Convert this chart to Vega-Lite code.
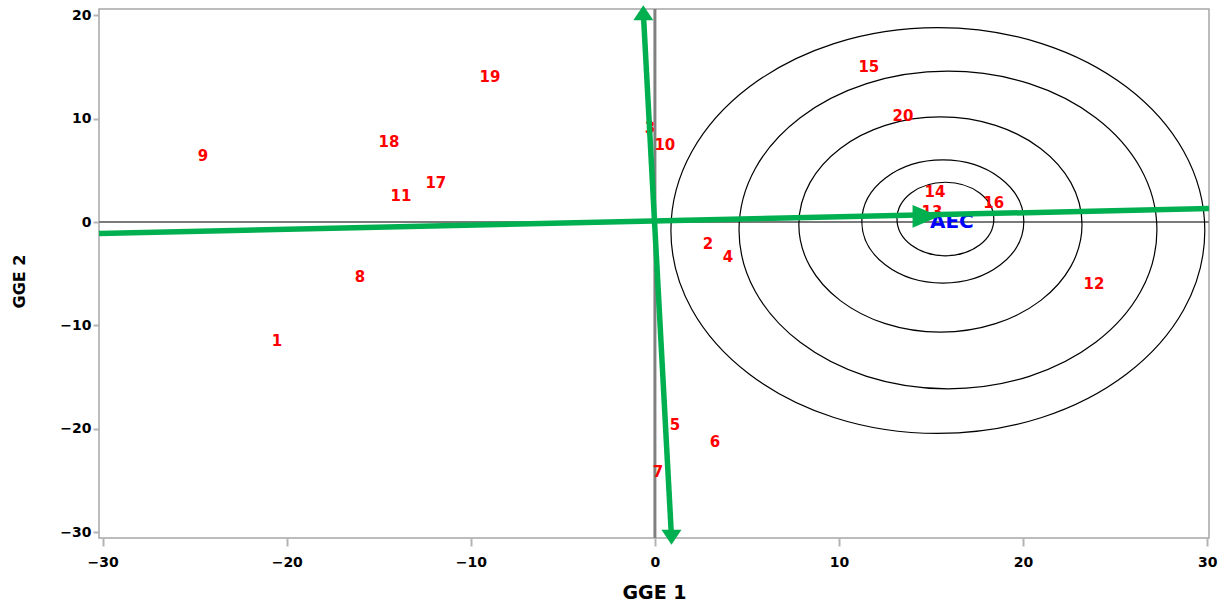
{
  "$schema": "https://vega.github.io/schema/vega-lite/v6.json",
  "width": 1110,
  "height": 529,
  "autosize": {"type": "none"},
  "padding": {"left": 99, "top": 9, "right": 16, "bottom": 68},
  "background": "white",
  "config": {"view": {"stroke": "#a6a6a6", "strokeWidth": 1.5}},
  "datasets": {
    "genotypes": [
      {"label": "1", "x": -20.53, "y": -11.5},
      {"label": "2", "x": 2.88, "y": -2.1},
      {"label": "3", "x": -0.27, "y": 9.08},
      {"label": "4", "x": 3.97, "y": -3.4},
      {"label": "5", "x": 1.09, "y": -19.61},
      {"label": "6", "x": 3.26, "y": -21.26},
      {"label": "7", "x": 0.16, "y": -24.15},
      {"label": "8", "x": -16.02, "y": -5.31},
      {"label": "9", "x": -24.55, "y": 6.38},
      {"label": "10", "x": 0.54, "y": 7.44},
      {"label": "11", "x": -13.8, "y": 2.51},
      {"label": "12", "x": 23.85, "y": -6.0},
      {"label": "13", "x": 15.05, "y": 0.97},
      {"label": "14", "x": 15.21, "y": 2.9},
      {"label": "15", "x": 11.62, "y": 14.98},
      {"label": "16", "x": 18.41, "y": 1.84},
      {"label": "17", "x": -11.9, "y": 3.77},
      {"label": "18", "x": -14.45, "y": 7.73},
      {"label": "19", "x": -8.96, "y": 14.01},
      {"label": "20", "x": 13.47, "y": 10.24}
    ],
    "aec": [{"label": "AEC", "x": 16.13, "y": 0.0}],
    "rings": [
      {"ring": 1, "cx": 15.78, "cy": 0.29, "r": 2.63},
      {"ring": 2, "cx": 15.64, "cy": 0.05, "r": 4.4},
      {"ring": 3, "cx": 15.51, "cy": -0.24, "r": 7.69},
      {"ring": 4, "cx": 15.92, "cy": -0.77, "r": 11.35},
      {"ring": 5, "cx": 15.37, "cy": -0.82, "r": 14.5}
    ],
    "vectors": [
      {"x": -30.2, "y": -1.1, "x2": 30.1, "y2": 1.3},
      {"x": -0.63, "y": 20.24, "x2": 0.9, "y2": -30.48}
    ],
    "headUp": [{"x": -0.63, "y": 20.24}],
    "headDown": [{"x": 0.9, "y": -30.48}],
    "headRight": [{"x": 14.73, "y": 0.55}]
  },
  "layer": [
    {
      "data": {"values": [{"z": 0}]},
      "mark": {"type": "rule", "color": "#808080", "strokeWidth": 3},
      "encoding": {
        "x": {"datum": 0, "type": "quantitative",
          "scale": {"domain": [-30.2, 30.1], "nice": false, "zero": false},
          "axis": {
            "title": "GGE 1", "values": [-30, -20, -10, 0, 10, 20, 30],
            "grid": false, "domain": false,
            "tickColor": "#b4b4b4", "tickSize": 8, "tickWidth": 2,
            "labelFont": "DejaVu Sans", "labelFontWeight": "bold", "labelFontSize": 14,
            "labelColor": "#000", "labelPadding": 16, "labelBaseline": "middle",
            "titleFont": "DejaVu Sans", "titleFontWeight": "bold", "titleFontSize": 19,
            "titleColor": "#000", "titleX": 555, "titleY": 54, "titleBaseline": "middle", "titleAlign": "center"
          }
        }
      }
    },
    {
      "data": {"values": [{"z": 0}]},
      "mark": {"type": "rule", "color": "#7a7a7a", "strokeWidth": 2},
      "encoding": {
        "y": {"datum": 0, "type": "quantitative",
          "scale": {"domain": [-30.55, 20.6], "nice": false, "zero": false},
          "axis": {
            "title": "GGE 2", "values": [-30, -20, -10, 0, 10, 20],
            "grid": false, "domain": false,
            "tickColor": "#b4b4b4", "tickSize": 6, "tickWidth": 2,
            "labelFont": "DejaVu Sans", "labelFontWeight": "bold", "labelFontSize": 14,
            "labelColor": "#000", "labelPadding": 2,
            "titleFont": "DejaVu Sans", "titleFontWeight": "bold", "titleFontSize": 16,
            "titleColor": "#000", "titleX": -80, "titleY": 272, "titleBaseline": "middle", "titleAlign": "center", "titleAngle": -90
          }
        }
      }
    },
    {
      "data": {"name": "rings"},
      "mark": {"type": "point", "shape": "M -1 0 A 1 0.76 0 1 1 1 0 A 1 0.76 0 1 1 -1 0 Z", "filled": false, "stroke": "#000", "strokeWidth": 1.2, "opacity": 1},
      "encoding": {
        "x": {"field": "cx", "type": "quantitative", "scale": {"domain": [-30.2, 30.1], "nice": false, "zero": false}},
        "y": {"field": "cy", "type": "quantitative", "scale": {"domain": [-30.55, 20.6], "nice": false, "zero": false}},
        "size": {"field": "r", "type": "quantitative", "scale": {"type": "pow", "exponent": 2, "domain": [0, 15], "range": [0, 305035], "zero": true, "nice": false}, "legend": null}
      }
    },
    {
      "data": {"name": "genotypes"},
      "mark": {"type": "text", "color": "#ff0000", "font": "DejaVu Sans", "fontWeight": "bold", "fontSize": 15, "align": "center", "baseline": "middle"},
      "encoding": {
        "x": {"field": "x", "type": "quantitative", "scale": {"domain": [-30.2, 30.1], "nice": false, "zero": false}},
        "y": {"field": "y", "type": "quantitative", "scale": {"domain": [-30.55, 20.6], "nice": false, "zero": false}},
        "text": {"field": "label"}
      }
    },
    {
      "data": {"name": "aec"},
      "mark": {"type": "text", "color": "#0000ff", "font": "DejaVu Sans", "fontWeight": "bold", "fontSize": 20, "align": "center", "baseline": "middle"},
      "encoding": {
        "x": {"field": "x", "type": "quantitative", "scale": {"domain": [-30.2, 30.1], "nice": false, "zero": false}},
        "y": {"field": "y", "type": "quantitative", "scale": {"domain": [-30.55, 20.6], "nice": false, "zero": false}},
        "text": {"field": "label"}
      }
    },
    {
      "data": {"name": "vectors"},
      "mark": {"type": "rule", "color": "#00b050", "strokeWidth": 5.5},
      "encoding": {
        "x": {"field": "x", "type": "quantitative", "scale": {"domain": [-30.2, 30.1], "nice": false, "zero": false}},
        "y": {"field": "y", "type": "quantitative", "scale": {"domain": [-30.55, 20.6], "nice": false, "zero": false}},
        "x2": {"field": "x2"},
        "y2": {"field": "y2"}
      }
    },
    {
      "data": {"name": "headUp"},
      "mark": {"type": "point", "shape": "M 0 -0.75 L 1 0.75 L -1 0.75 Z", "filled": true, "color": "#00b050", "opacity": 1, "size": 400},
      "encoding": {
        "x": {"field": "x", "type": "quantitative", "scale": {"domain": [-30.2, 30.1], "nice": false, "zero": false}},
        "y": {"field": "y", "type": "quantitative", "scale": {"domain": [-30.55, 20.6], "nice": false, "zero": false}}
      }
    },
    {
      "data": {"name": "headDown"},
      "mark": {"type": "point", "shape": "M 0 0.75 L 1 -0.75 L -1 -0.75 Z", "filled": true, "color": "#00b050", "opacity": 1, "size": 400},
      "encoding": {
        "x": {"field": "x", "type": "quantitative", "scale": {"domain": [-30.2, 30.1], "nice": false, "zero": false}},
        "y": {"field": "y", "type": "quantitative", "scale": {"domain": [-30.55, 20.6], "nice": false, "zero": false}}
      }
    },
    {
      "data": {"name": "headRight"},
      "mark": {"type": "point", "shape": "M 1 0 L -1 -0.85 L -1 0.85 Z", "filled": true, "color": "#00b050", "opacity": 1, "size": 729},
      "encoding": {
        "x": {"field": "x", "type": "quantitative", "scale": {"domain": [-30.2, 30.1], "nice": false, "zero": false}},
        "y": {"field": "y", "type": "quantitative", "scale": {"domain": [-30.55, 20.6], "nice": false, "zero": false}}
      }
    }
  ]
}
